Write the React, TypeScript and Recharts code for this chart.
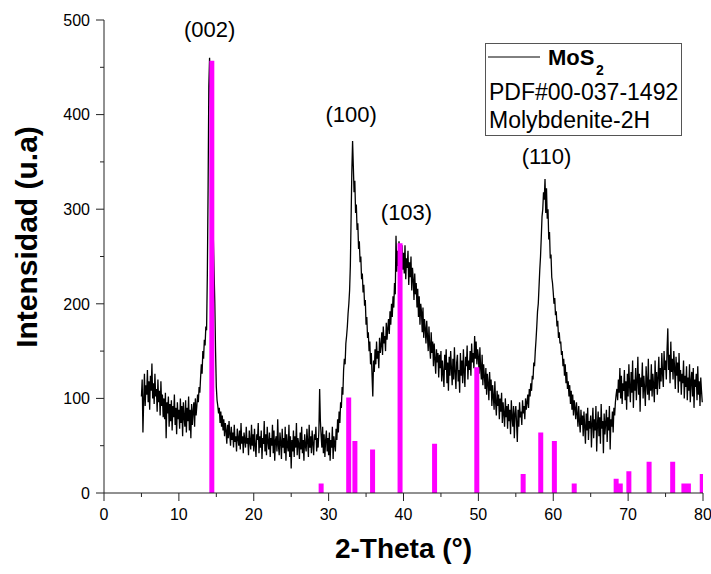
import { ComposedChart, Legend, Line, ReferenceDot, XAxis, YAxis } from "recharts";

// XRD scan of the MoS2 sample (2θ step 0.1°, starting at 5°), one row per 5°
const SCAN_START = 5;
const SCAN_STEP = 0.1;
const scanCounts = [
  // 5.0 – 9.9
  102, 120, 64, 98, 126, 92, 114, 104, 130, 96, 118, 88, 124, 108, 137, 100, 116, 94, 126, 102,
  110, 86, 120, 96, 108, 82, 118, 92, 104, 80, 100, 78, 106, 58, 96, 84, 102, 70, 94, 76,
  98, 66, 92, 80, 104, 72, 90, 62, 96, 78,
  // 10.0 – 14.9
  88, 68, 100, 74, 92, 60, 96, 80, 70, 98, 64, 90, 76, 102, 66, 88, 58, 94, 72, 86,
  96, 70, 100, 82, 92, 104, 96, 112, 106, 122, 136, 126, 150, 142, 162, 156, 176, 172, 230, 320,
  430, 460, 420, 380, 340, 300, 270, 235, 200, 150,
  // 15.0 – 19.9
  112, 98, 92, 84, 90, 74, 86, 70, 82, 66, 78, 60, 74, 66, 52, 72, 58, 76, 62, 50,
  70, 56, 64, 48, 72, 54, 60, 44, 68, 58, 50, 66, 46, 74, 52, 60, 42, 64, 56, 48,
  70, 52, 58, 40, 66, 54, 46, 72, 50, 62,
  // 20.0 – 24.9
  44, 68, 50, 38, 62, 56, 74, 42, 60, 48, 66, 36, 58, 52, 76, 44, 62, 40, 70, 54,
  46, 64, 38, 58, 50, 72, 42, 66, 34, 56, 60, 44, 78, 50, 40, 64, 54, 36, 68, 48,
  58, 42, 70, 34, 62, 50, 44, 72, 38, 60,
  // 25.0 – 29.9
  26, 56, 44, 66, 38, 60, 48, 74, 40, 58, 52, 36, 64, 46, 70, 42, 56, 34, 62, 50,
  44, 68, 54, 38, 72, 48, 60, 42, 66, 52, 40, 62, 56, 70, 44, 58, 48, 66, 110, 76,
  60, 48, 70, 42, 62, 38, 56, 66, 44, 58,
  // 30.0 – 34.9
  40, 64, 34, 56, 48, 70, 36, 60, 52, 44, 68, 56, 78, 64, 86, 74, 96, 90, 112, 104,
  130, 142, 136, 158, 166, 176, 190, 200, 214, 240, 290, 340, 372, 345, 318, 330, 296, 305, 278, 285,
  258, 266, 244, 250, 226, 232, 212, 220, 198, 204,
  // 35.0 – 39.9
  178, 186, 164, 170, 150, 160, 136, 148, 124, 102, 140, 128, 152, 136, 160, 142, 150, 132, 164, 148,
  156, 170, 146, 176, 158, 166, 150, 180, 162, 174, 184, 168, 192, 178, 200, 186, 208, 196, 222, 210,
  272, 234, 256, 240, 266, 228, 258, 246, 262, 236,
  // 40.0 – 44.9
  254, 232, 262, 226, 248, 238, 256, 220, 244, 228, 250, 214, 238, 226, 204, 232, 210, 222, 196, 216,
  186, 208, 178, 200, 192, 170, 196, 164, 184, 174, 158, 182, 166, 150, 176, 156, 142, 170, 148, 160,
  134, 158, 142, 126, 152, 138, 148, 122, 146, 132,
  // 45.0 – 49.9
  150, 118, 140, 126, 112, 146, 130, 152, 116, 138, 108, 144, 124, 150, 132, 114, 142, 120, 154, 128,
  110, 138, 146, 118, 130, 106, 148, 124, 140, 116, 152, 128, 112, 144, 134, 156, 120, 140, 130, 150,
  124, 158, 138, 148, 132, 166, 142, 160, 136, 152,
  // 50.0 – 54.9
  144, 126, 154, 132, 120, 146, 114, 136, 124, 110, 132, 104, 126, 116, 98, 128, 108, 120, 92, 114,
  102, 88, 118, 96, 82, 108, 92, 104, 78, 100, 86, 106, 74, 96, 84, 70, 100, 80, 92, 68,
  94, 76, 88, 62, 98, 80, 70, 92, 58, 84,
  // 55.0 – 59.9
  92, 74, 54, 88, 70, 96, 80, 86, 72, 98, 84, 92, 78, 100, 88, 96, 104, 90, 110, 102,
  116, 108, 124, 120, 138, 134, 150, 162, 176, 192, 200, 218, 236, 250, 270, 292, 300, 318, 310, 332,
  296, 322, 290, 300, 268, 276, 248, 252, 228, 222,
  // 60.0 – 64.9
  212, 200, 206, 188, 192, 176, 182, 164, 170, 158, 160, 146, 150, 134, 142, 124, 136, 116, 128, 110,
  118, 102, 114, 94, 108, 88, 104, 82, 98, 90, 78, 96, 84, 70, 92, 76, 64, 88, 72, 82,
  60, 86, 70, 52, 84, 66, 90, 56, 76, 68,
  // 65.0 – 69.9
  82, 48, 74, 90, 58, 78, 66, 92, 44, 72, 86, 60, 80, 52, 94, 68, 76, 42, 84, 62,
  74, 88, 54, 80, 66, 92, 46, 78, 70, 86, 64, 90, 82, 96, 104, 110, 98, 120, 106, 132,
  100, 124, 94, 116, 108, 130, 98, 118, 88, 126,
  // 70.0 – 74.9
  102, 136, 112, 96, 128, 106, 140, 90, 120, 108, 132, 98, 118, 144, 104, 126, 86, 122, 112, 138,
  100, 124, 110, 92, 134, 116, 104, 142, 98, 120, 108, 136, 102, 126, 114, 96, 140, 110, 128, 104,
  122, 144, 110, 132, 118, 148, 126, 112, 150, 130,
  // 75.0 – 79.9
  140, 120, 152, 174, 130, 146, 116, 160, 128, 142, 120, 150, 132, 110, 144, 124, 138, 106, 148, 118,
  130, 104, 126, 116, 140, 100, 124, 112, 134, 98, 122, 108, 136, 96, 118, 128, 102, 132, 90, 120,
  112, 126, 98, 134, 104, 118, 92, 122, 108, 96,
];

// PDF#00-037-1492 reference lines (scaled to the plot)
const refAngles = [14.4, 29.0, 32.68, 33.51, 35.87, 39.54, 44.15, 49.79, 55.98, 58.33, 60.15, 62.8, 68.4, 68.95, 70.1, 72.8, 75.95, 77.45, 78.05, 79.9];
const refIntensity = [457, 10, 101, 55, 46, 264, 52, 133, 20, 64, 55, 10, 15, 10, 23, 33, 33, 10, 10, 20];

const peakHkl = ["(002)", "(100)", "(103)", "(110)"];
const peakLabelX = [14.1, 33.0, 40.4, 59.1];
const peakLabelY = [482, 392, 289, 348];

const xTicks = [0, 5, 10, 15, 20, 25, 30, 35, 40, 45, 50, 55, 60, 65, 70, 75, 80];
const yTicks = [0, 50, 100, 150, 200, 250, 300, 350, 400, 450, 500];

const FONT = "'Liberation Sans', Arial, sans-serif";
const AXIS = "#222";
const MAGENTA = "#FF00FF";

const scan = scanCounts.map((c, i) => ({ theta: +(SCAN_START + i * SCAN_STEP).toFixed(1), v: c }));
const sticks = refAngles.flatMap((a, i) => [
  { theta: a, v: 0 },
  { theta: a, v: refIntensity[i] },
  { theta: a, v: null },
]);

function XTick({ x, y, payload }: any) {
  const major = payload.value % 10 === 0;
  return (
    <g>
      <line x1={x} x2={x} y1={y} y2={y + (major ? 8 : 4)} stroke={AXIS} />
      {major && (
        <text x={x} y={y + 27} textAnchor="middle" fontSize={16} fontFamily={FONT} fill="#000">
          {payload.value}
        </text>
      )}
    </g>
  );
}

function YTick({ x, y, payload }: any) {
  const major = payload.value % 100 === 0;
  return (
    <g>
      <line x1={x - (major ? 8 : 4)} x2={x} y1={y} y2={y} stroke={AXIS} />
      {major && (
        <text x={x - 14} y={y} dy="0.36em" textAnchor="end" fontSize={16} fontFamily={FONT} fill="#000">
          {payload.value}
        </text>
      )}
    </g>
  );
}

function LegendBox() {
  return (
    <svg width={198} height={94} style={{ display: "block" }}>
      <rect x={0.5} y={0.5} width={196} height={92} fill="#fff" stroke="#555" />
      <line x1={3} x2={55} y1={14} y2={14} stroke="#000" />
      <text x={63} y={22} fontSize={22} fontWeight="bold" fontFamily={FONT}>
        MoS
      </text>
      <text x={111} y={32} fontSize={14} fontWeight="bold" fontFamily={FONT}>
        2
      </text>
      <text x={4} y={57} fontSize={23} fontFamily={FONT}>
        PDF#00-037-1492
      </text>
      <text x={4} y={85} fontSize={23} fontFamily={FONT}>
        Molybdenite-2H
      </text>
    </svg>
  );
}

export default function App() {
  return (
    <div style={{ width: 711, height: 574 }}>
      <style>{"body{margin:0}"}</style>
      <ComposedChart width={711} height={574} margin={{ top: 20, right: 8, bottom: 0, left: 0 }}>
        <XAxis
          type="number"
          dataKey="theta"
          domain={[0, 80]}
          ticks={xTicks}
          interval={0}
          height={81}
          allowDataOverflow
          axisLine={{ stroke: AXIS }}
          tickLine={false}
          tickSize={0}
          tickMargin={0}
          tick={(p: any) => <XTick {...p} />}
          label={{
            content: ({ viewBox }: any) => (
              <text
                x={viewBox.x + viewBox.width / 2}
                y={viewBox.y + 65}
                textAnchor="middle"
                fontSize={28}
                fontWeight="bold"
                fontFamily={FONT}
                fill="#000"
              >
                2-Theta (°)
              </text>
            ),
          }}
        />
        <YAxis
          type="number"
          domain={[0, 500]}
          ticks={yTicks}
          interval={0}
          width={104}
          axisLine={{ stroke: AXIS }}
          tickLine={false}
          tickSize={0}
          tickMargin={0}
          tick={(p: any) => <YTick {...p} />}
          label={{
            content: () => (
              <text
                x={37}
                y={237}
                transform="rotate(-90, 37, 237)"
                textAnchor="middle"
                fontSize={30}
                fontWeight="bold"
                fontFamily={FONT}
                fill="#000"
              >
                Intensidad (u.a)
              </text>
            ),
          }}
        />
        <Line
          data={scan}
          dataKey="v"
          stroke="#000"
          strokeWidth={1.3}
          dot={false}
          activeDot={false}
          isAnimationActive={false}
          legendType="none"
        />
        <Line
          data={sticks}
          dataKey="v"
          stroke={MAGENTA}
          strokeWidth={5}
          strokeLinecap="butt"
          dot={false}
          activeDot={false}
          connectNulls={false}
          isAnimationActive={false}
          legendType="none"
        />
        {peakHkl.map((hkl, i) => (
          <ReferenceDot
            key={hkl}
            x={peakLabelX[i]}
            y={peakLabelY[i]}
            r={0}
            shape={(p: any) => (
              <text x={p.cx} y={p.cy} textAnchor="middle" fontSize={22} fontFamily={FONT} fill="#000">
                {hkl}
              </text>
            )}
          />
        ))}
        <Legend
          layout="horizontal"
          verticalAlign="middle"
          align="center"
          content={() => <LegendBox />}
          wrapperStyle={{ position: "absolute", top: 43, left: 485, width: 198, height: 94 }}
        />
      </ComposedChart>
    </div>
  );
}
